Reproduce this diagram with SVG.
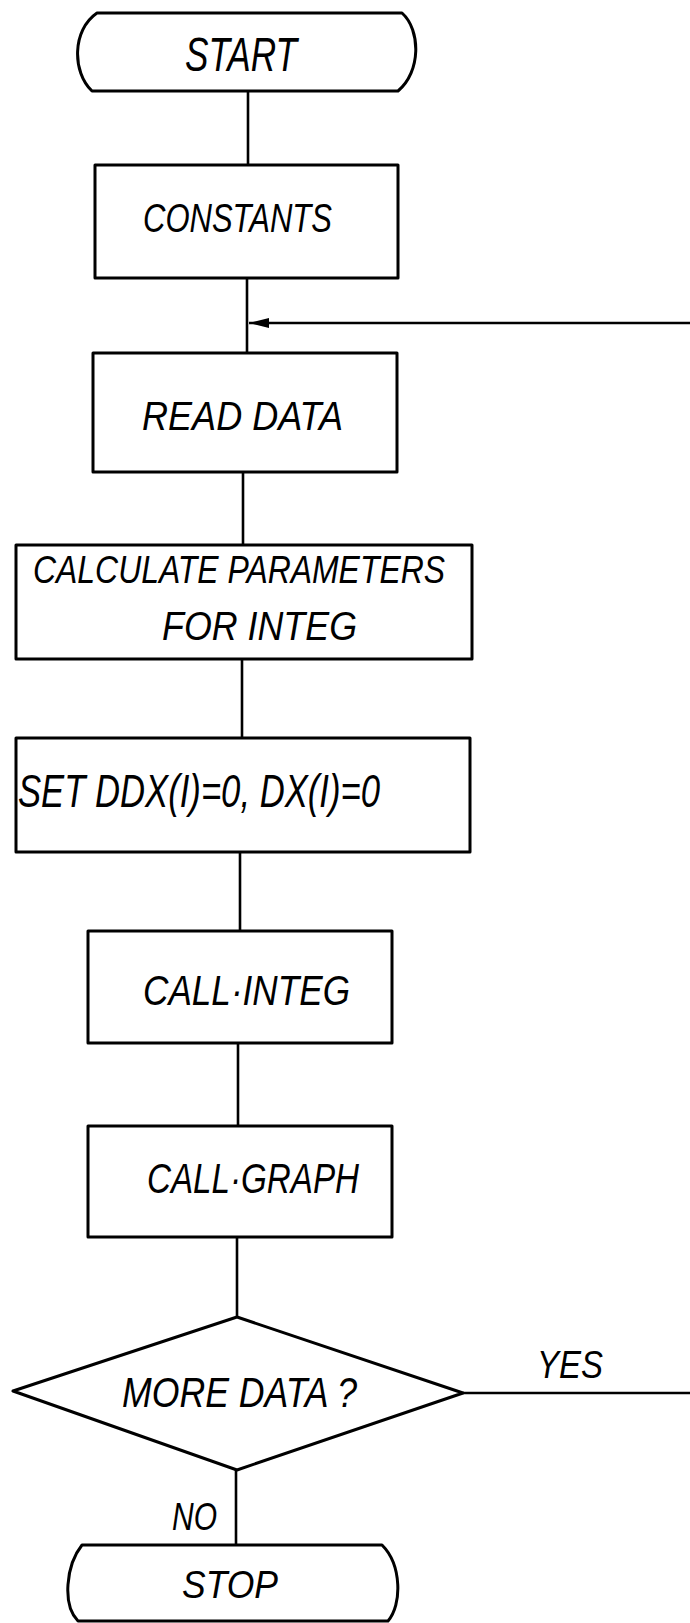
<svg xmlns="http://www.w3.org/2000/svg" width="690" height="1623" viewBox="0 0 690 1623">
<style>
.shape{fill:#fff;stroke:#000;stroke-width:3;stroke-linejoin:round}
.conn{fill:none;stroke:#000;stroke-width:2.6}
.lbl{font-family:"Liberation Sans",Arial,sans-serif;font-style:italic;fill:#000}
</style>
<defs>
<marker id="arr" viewBox="0 0 20 10" refX="20" refY="5" markerWidth="20" markerHeight="10" markerUnits="userSpaceOnUse" orient="auto">
<path d="M0,0 L20,5 L0,10 Z" fill="#000"/>
</marker>
</defs>
<rect width="690" height="1623" fill="#fff"/>
<g id="connectors">
<line class="conn" x1="248" y1="91" x2="248" y2="165"/>
<line class="conn" x1="247" y1="278" x2="247" y2="353"/>
<line class="conn" x1="243" y1="472" x2="243" y2="545"/>
<line class="conn" x1="242" y1="659" x2="242" y2="738"/>
<line class="conn" x1="240" y1="852" x2="240" y2="931"/>
<line class="conn" x1="238" y1="1043" x2="238" y2="1126"/>
<line class="conn" x1="237" y1="1237" x2="237" y2="1317"/>
<line class="conn" x1="236" y1="1470" x2="236" y2="1545"/>
<path class="conn" d="M463,1393 H700 V323 H249" marker-end="url(#arr)"/>
<text class="lbl" x="537" y="1378" font-size="39" textLength="66" lengthAdjust="spacingAndGlyphs">YES</text>
<text class="lbl" x="172" y="1530" font-size="39" textLength="45" lengthAdjust="spacingAndGlyphs">NO</text>
</g>
<g id="start">
<path class="shape" d="M97,13 H402 C421,30 421,72 398,91 H92 C72,72 72,30 97,13 Z"/>
<text class="lbl" x="185" y="71" font-size="48" textLength="112" lengthAdjust="spacingAndGlyphs">START</text>
</g>
<g id="constants">
<rect class="shape" x="95" y="165" width="303" height="113"/>
<text class="lbl" x="143" y="232" font-size="41" textLength="189" lengthAdjust="spacingAndGlyphs">CONSTANTS</text>
</g>
<g id="read-data">
<rect class="shape" x="93" y="353" width="304" height="119"/>
<text class="lbl" x="142" y="430" font-size="41" textLength="201" lengthAdjust="spacingAndGlyphs">READ DATA</text>
</g>
<g id="calc-params">
<rect class="shape" x="16" y="545" width="456" height="114"/>
<text class="lbl" x="33" y="583" font-size="39" textLength="412" lengthAdjust="spacingAndGlyphs">CALCULATE PARAMETERS</text>
<text class="lbl" x="162" y="640" font-size="41" textLength="195" lengthAdjust="spacingAndGlyphs">FOR INTEG</text>
</g>
<g id="set-ddx">
<rect class="shape" x="16" y="738" width="454" height="114"/>
<text class="lbl" x="18" y="807" font-size="46" textLength="362" lengthAdjust="spacingAndGlyphs">SET DDX(I)=0, DX(I)=0</text>
</g>
<g id="call-integ">
<rect class="shape" x="88" y="931" width="304" height="112"/>
<text class="lbl" x="143" y="1005" font-size="43" textLength="207" lengthAdjust="spacingAndGlyphs">CALL·INTEG</text>
</g>
<g id="call-graph">
<rect class="shape" x="88" y="1126" width="304" height="111"/>
<text class="lbl" x="147" y="1193" font-size="43" textLength="212" lengthAdjust="spacingAndGlyphs">CALL·GRAPH</text>
</g>
<g id="more-data">
<path class="shape" d="M237,1317 L463,1393 L237,1470 L13,1391 Z"/>
<text class="lbl" x="122" y="1407" font-size="43" textLength="235" lengthAdjust="spacingAndGlyphs">MORE DATA ?</text>
</g>
<g id="stop">
<path class="shape" d="M82,1545 H382 C402,1565 402,1605 388,1621 H78 C62,1605 66,1565 82,1545 Z"/>
<text class="lbl" x="182" y="1598" font-size="39" textLength="96" lengthAdjust="spacingAndGlyphs">STOP</text>
</g>
</svg>
